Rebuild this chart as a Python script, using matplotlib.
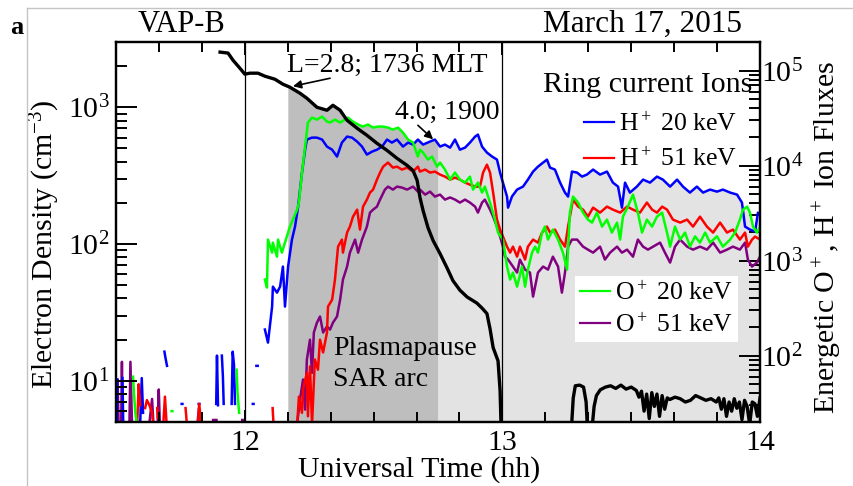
import numpy as np
import matplotlib
matplotlib.use('Agg')
import matplotlib.pyplot as plt
from matplotlib.ticker import MultipleLocator, FixedLocator, LogLocator, NullFormatter
from matplotlib.lines import Line2D

plt.rcParams['font.family'] = ['Liberation Serif', 'DejaVu Serif']
plt.rcParams['mathtext.fontset'] = 'custom'
plt.rcParams['mathtext.rm'] = 'Liberation Serif'
plt.rcParams['mathtext.it'] = 'Liberation Serif:italic'
plt.rcParams['mathtext.bf'] = 'Liberation Serif:bold'
plt.rcParams['font.size'] = 21.5

nan = np.nan

# ---------------- data ----------------
# Electron density (cm^-3), left axis
ne_t = [11.904, 11.935, 11.954, 11.981, 12.000, 12.020, 12.051, 12.078, 12.117, 12.148,
        12.175, 12.214, 12.241, 12.280, 12.319, 12.342, 12.370, 12.397, 12.436, 12.474,
        12.513, 12.552, 12.591, 12.630, 12.653, 12.669, 12.680, 12.692, 12.711, 12.731,
        12.758, 12.785, 12.808, 12.835, 12.863, 12.901, 12.921, 12.940, 12.952, 12.964,
        12.983, 12.991, 12.995, nan,
        13.268, 13.275, 13.283, 13.300, 13.315, 13.325, 13.330, nan,
        13.348, 13.356, 13.365, 13.380, 13.400, 13.420, 13.440, 13.460, 13.480, 13.500,
        13.520, 13.530, 13.540, 13.550, 13.560, 13.570, 13.580, 13.590, 13.600, 13.610,
        13.620, 13.630, 13.640, 13.650, 13.670, 13.690, 13.710, 13.730, 13.750, 13.770,
        13.790, 13.810, 13.830, 13.840, 13.850, 13.860, 13.870, 13.880, 13.890, 13.900,
        13.910, 13.920, 13.930, 13.940, 13.950, 13.960, 13.970, 13.980, 13.990, 14.000]
ne_v = [2530, 2490, 2210, 1930, 1746, 1775, 1775, 1687, 1603, 1474,
        1402, 1267, 1164, 1000, 951, 1034, 951, 803, 702, 624,
        545, 484, 423, 376, 345, 292, 219, 176, 132, 106,
        85, 67, 54, 46, 41, 37, 34, 31, 24, 17.5,
        14, 8.5, 4.5, nan,
        4.5, 7.5, 9.2, 9.3, 9.0, 7.0, 4.5, nan,
        4.5, 6.5, 7.8, 8.6, 9.0, 9.2, 8.8, 9.3, 8.7, 9.0,
        8.5, 7.6, 8.4, 6.0, 8.0, 5.3, 8.2, 6.5, 8.0, 5.5,
        7.8, 6.2, 7.5, 7.3, 7.6, 7.4, 7.0, 7.2, 7.8, 7.5,
        7.2, 7.4, 7.0, 7.5, 6.2, 7.4, 5.5, 7.0, 6.0, 7.4,
        6.3, 7.0, 5.2, 7.2, 6.5, 4.8, 7.0, 6.8, 5.5, 7.5]

# H+ 20 keV flux (right axis)
h20_t = [12.078, 12.090, 12.106, 12.109, 12.125, 12.137, 12.148, 12.156, 12.168, 12.183,
         12.195, 12.207, 12.222, 12.234, 12.241, 12.261, 12.280, 12.300, 12.319, 12.339,
         12.358, 12.377, 12.397, 12.416, 12.436, 12.455, 12.474, 12.494, 12.513, 12.533,
         12.552, 12.571, 12.591, 12.614, 12.634, 12.653, 12.672, 12.692, 12.719, 12.738,
         12.758, 12.777, 12.797, 12.816, 12.835, 12.855, 12.874, 12.894, 12.905, 12.921,
         12.940, 12.960, 12.979, 12.991, 13.002, 13.018, 13.022, 13.037, 13.057, 13.080,
         13.099, 13.119, 13.138, 13.158, 13.173, 13.185, 13.204, 13.224, 13.243, 13.255,
         13.270, 13.290, 13.309, 13.328, 13.352, 13.379, 13.406, 13.429, 13.449, 13.464,
         13.476, 13.495, 13.522, 13.546, 13.573, 13.600, 13.623, 13.651, 13.678, 13.701,
         13.728, 13.755, 13.779, 13.806, 13.833, 13.856, 13.884, 13.911, 13.930, 13.942,
         13.961, 13.981, 13.992, 14.000]
h20_f = [188, 137, 328, 532, 460, 532, 865, 328, 865, 1664,
         2280, 3700, 8440, 14700, 18800, 19700, 19700, 18800, 15850, 14700,
         12450, 17460, 20200, 19700, 17900, 15850, 13060, 14040, 14700, 15850,
         18800, 17460, 18800, 15850, 17460, 16640, 18800, 16640, 17900, 18800,
         15850, 16640, 15460, 18800, 14700, 15460, 17460, 20200, 21200, 15850,
         13710, 12450, 11560, 8440, 6620, 4720, 3610, 4720, 5590, 6010,
         7120, 8650, 9750, 10760, 11560, 9520, 9080, 6620, 5200, 4720,
         8650, 8440, 7660, 8040, 9080, 8040, 8650, 6620, 6010, 3610,
         6620, 5200, 6010, 7120, 6620, 7660, 7120, 6010, 7120, 6010,
         5200, 6010, 5200, 5590, 5320, 5590, 5200, 4950, 4080, 2280,
         2120, 2020, 3200, 3000]

# H+ 51 keV flux
h51_t = [12.203, 12.210, 12.222, 12.226, 12.241, 12.245, 12.253, 12.261, 12.272, 12.284,
         12.292, 12.304, 12.319, 12.323, 12.339, 12.350, 12.362, 12.377, 12.381, 12.397,
         12.408, 12.420, 12.436, 12.447, 12.459, 12.474, 12.486, 12.498, 12.513, 12.525,
         12.537, 12.556, 12.575, 12.591, 12.610, 12.630, 12.653, 12.672, 12.680, 12.700,
         12.719, 12.738, 12.758, 12.777, 12.797, 12.816, 12.835, 12.855, 12.874, 12.894,
         12.913, 12.925, 12.940, 12.952, 12.964, 12.979, 12.991, 13.002, 13.018, 13.030,
         13.041, 13.057, 13.068, 13.088, 13.099, 13.119, 13.138, 13.154, 13.173, 13.185,
         13.204, 13.224, 13.243, 13.255, 13.274, 13.294, 13.313, 13.332, 13.352, 13.379,
         13.406, 13.429, 13.457, 13.484, 13.507, 13.534, 13.561, 13.581, 13.600, 13.620,
         13.639, 13.662, 13.690, 13.717, 13.740, 13.767, 13.794, 13.818, 13.845, 13.872,
         13.895, 13.922, 13.942, 13.953, 13.969, 13.981, 14.000]
h51_f = [18, 37, 25, 44, 66, 23, 77, 19, 91, 71,
         147, 108, 175, 328, 388, 631, 1403, 1664, 1213, 1972,
         2280, 2900, 3440, 2120, 3700, 4385, 5200, 5590, 7120, 8440,
         9750, 10760, 9520, 9750, 9080, 9520, 8650, 9750, 8650, 9080,
         8440, 8650, 8040, 7660, 7120, 7480, 7120, 6620, 6300, 6010,
         6010, 8440, 10230, 8440, 5200, 2700, 2120, 1790, 1403, 1213,
         1403, 1100, 1403, 1025, 1403, 1664, 1546, 1972, 2280, 1972,
         2120, 1664, 1403, 2280, 4385, 3700, 3440, 2900, 3610, 3200,
         3700, 3440, 3200, 3700, 3440, 3200, 4080, 3440, 3200, 3700,
         3440, 2700, 2512, 2700, 2280, 2900, 2280, 1972, 2512, 1972,
         2120, 1664, 1972, 1403, 1664, 1790, 1664]

# O+ 20 keV flux
o20_t = [12.078, 12.086, 12.090, 12.106, 12.109, 12.125, 12.129, 12.144, 12.156, 12.168,
         12.175, 12.187, 12.203, 12.210, 12.222, 12.234, 12.245, 12.261, 12.280, 12.300,
         12.319, 12.331, 12.350, 12.370, 12.389, 12.400, 12.420, 12.440, 12.458, 12.478,
         12.498, 12.517, 12.536, 12.556, 12.575, 12.595, 12.614, 12.634, 12.653, 12.672,
         12.680, 12.692, 12.711, 12.727, 12.746, 12.758, 12.777, 12.797, 12.816, 12.835,
         12.855, 12.874, 12.886, 12.905, 12.921, 12.932, 12.952, 12.971, 12.983, 13.002,
         13.018, 13.030, 13.041, 13.057, 13.076, 13.088, 13.099, 13.115, 13.127, 13.138,
         13.154, 13.165, 13.177, 13.196, 13.216, 13.235, 13.251, 13.262, 13.274, 13.294,
         13.313, 13.332, 13.348, 13.367, 13.387, 13.406, 13.425, 13.445, 13.457, 13.468,
         13.487, 13.507, 13.526, 13.542, 13.561, 13.581, 13.600, 13.620, 13.639, 13.651,
         13.670, 13.690, 13.709, 13.728, 13.748, 13.767, 13.787, 13.806, 13.833, 13.856,
         13.884, 13.903, 13.922, 13.934, 13.950, 13.961, 13.973, 13.988, 14.000]
o20_f = [631, 520, 1664, 1213, 1546, 1100, 1664, 1213, 1546, 1972,
         2280, 2700, 3440, 4080, 8440, 15850, 28380, 32000, 30500, 32800,
         29040, 28380, 30500, 28380, 30500, 32000, 29040, 27030, 25760, 27030,
         25120, 25760, 25760, 25120, 23900, 25120, 22230, 18800, 17460, 12450,
         14700, 13710, 11560, 12450, 9750, 10760, 9080, 7120, 8440, 7120,
         6620, 7660, 5590, 6620, 5200, 6010, 4080, 2700, 1972, 1664,
         865, 631, 748, 532, 865, 532, 804, 1213, 1403, 1213,
         1972, 2280, 1664, 2120, 1664, 1213, 804, 3200, 4720, 4080,
         3200, 2700, 2512, 3200, 2280, 2700, 1972, 2512, 1664, 2900,
         3700, 4950, 3200, 1972, 2700, 2280, 2900, 3200, 1972, 1403,
         2280, 1664, 1972, 1403, 1800, 1546, 1972, 1546, 1800, 1403,
         1664, 1972, 2700, 3440, 3700, 3200, 2280, 1972, 2280]

# O+ 51 keV flux
o51_t = [12.203, 12.214, 12.226, 12.234, 12.241, 12.253, 12.261, 12.268, 12.280, 12.292,
         12.304, 12.319, 12.331, 12.342, 12.358, 12.370, 12.381, 12.397, 12.408, 12.428,
         12.440, 12.455, 12.474, 12.486, 12.498, 12.513, 12.525, 12.544, 12.556, 12.575,
         12.591, 12.610, 12.630, 12.653, 12.672, 12.680, 12.700, 12.719, 12.738, 12.758,
         12.777, 12.797, 12.816, 12.835, 12.855, 12.874, 12.894, 12.905, 12.921, 12.932,
         12.952, 12.964, 12.979, 12.991, 13.002, 13.010, 13.022, 13.041, 13.057, 13.068,
         13.088, 13.107, 13.119, 13.138, 13.158, 13.177, 13.196, 13.216, 13.231, 13.243,
         13.255, 13.270, 13.290, 13.313, 13.332, 13.352, 13.379, 13.398, 13.418, 13.445,
         13.464, 13.484, 13.507, 13.526, 13.546, 13.565, 13.585, 13.612, 13.631, 13.651,
         13.670, 13.690, 13.717, 13.740, 13.767, 13.794, 13.818, 13.845, 13.872, 13.895,
         13.922, 13.942, 13.953, 13.969, 13.988, 14.000]
o51_f = [19, 34, 56, 27, 91, 147, 66, 175, 222, 258,
         175, 202, 188, 222, 258, 388, 631, 865, 1213, 1664,
         1213, 1664, 2280, 3200, 3440, 3700, 4385, 5590, 6010, 5590,
         6010, 5870, 5590, 6010, 5320, 5590, 4950, 5320, 4720, 4950,
         4385, 4620, 4385, 4080, 4385, 4080, 3700, 3200, 4080, 4385,
         3440, 2900, 2280, 1790, 1403, 1100, 1025, 865, 748, 1025,
         804, 748, 418, 748, 865, 804, 1100, 865, 460, 748,
         1403, 1664, 1664, 1403, 1305, 1213, 1403, 1025, 1213, 1403,
         1213, 1305, 1100, 1664, 1403, 1305, 1403, 1546, 1213, 953,
         1403, 1664, 1403, 1305, 1403, 1305, 1546, 1213, 1305, 1403,
         1305, 1546, 1025, 865, 953, 1100]

# sparse low-count samples before the main pass
h20_early_t = [11.503, 11.505, nan, 11.525, 11.528, nan, 11.594, 11.600, 11.605, nan,
               11.688, 11.692, 11.698, nan, 11.755, 11.758, nan, 11.821, 11.824, nan,
               11.889, 11.892, 11.896, nan, 11.911, 11.915, 11.918, nan,
               11.949, 11.953, 11.958, 11.962, nan, 12.031, 12.034, nan, 12.045, 12.050]
h20_early_f = [20, 56, nan, 58, 20, nan, 20, 58, 25, nan,
               110, 95, 78, nan, 31, 31, nan, 31, 31, nan,
               31, 100, 30, nan, 100, 60, 31, nan,
               31, 110, 80, 31, nan, 31, 31, nan, 78, 78]
o20_early_t = [11.566, 11.570, 11.575, 11.582, nan, 11.716, 11.719, nan, 11.968, 11.972, 11.978]
o20_early_f = [60, 40, 25, 18, nan, 26, 26, nan, 71, 40, 25]
h51_early_t = [11.582, 11.588, 11.594, nan, 11.613, 11.620, 11.630, 11.640, 11.645, nan,
               11.660, 11.662, nan, 11.683, 11.690, 11.696, nan, 11.770, 11.776, nan,
               11.818, 11.823, 11.830, nan, 12.108, 12.112]
h51_early_f = [18, 50, 30, nan, 28, 34, 30, 25, 18, nan,
               28, 22, nan, 18, 37, 20, nan, 28, 18, nan,
               18, 31, 20, nan, 28, 18]
o51_early_t = [11.502, 11.506, 11.510, nan, 11.520, 11.523, 11.526, nan, 11.552, 11.556, 11.562, nan,
               11.630, 11.640, 11.645, nan, 11.662, 11.666, 11.670, nan,
               11.815, 11.822, 11.830, nan, 11.877, 11.890, nan, 11.990, 11.995]
o51_early_f = [18, 56, 20, nan, 18, 86, 18, nan, 18, 86, 20, nan,
               20, 35, 20, nan, 20, 44, 20, nan,
               18, 28, 20, nan, 21, 21, nan, 21, 21]

# shaded intervals (UT hours)
sar_span = (12.167, 12.75)
outer_span = (12.75, 14.0)

# axis limits
XLIM = (11.5, 14.0)
NE_LIM = (5, 3000)
FLUX_LIM = (20, 2e5)

C_H20, C_H51, C_O20, C_O51 = '#0000ff', '#ff0000', '#00ff00', '#800080'

# ---------------- figure ----------------
W, H = 854, 486
fig = plt.figure(figsize=(W / 100, H / 100), dpi=100)
L, R, T, B = 116, 760, 42, 422
ax = fig.add_axes([L / W, 1 - B / H, (R - L) / W, (B - T) / H])
ax2 = ax.twinx()
ax.set_zorder(ax2.get_zorder() + 1)
ax.patch.set_visible(False)

ax.set_xlim(*XLIM)
ax.set_yscale('log')
ax.set_ylim(*NE_LIM)
ax2.set_yscale('log')
ax2.set_ylim(*FLUX_LIM)


def ne_to_flux(v):
    v = np.asarray(v, float)
    frac = (np.log10(v) - np.log10(NE_LIM[0])) / (np.log10(NE_LIM[1]) - np.log10(NE_LIM[0]))
    return 10 ** (np.log10(FLUX_LIM[0]) + frac * (np.log10(FLUX_LIM[1]) - np.log10(FLUX_LIM[0])))


def log_interp(tq, t, v):
    t = np.asarray(t, float)
    v = np.asarray(v, float)
    m = np.isfinite(t) & np.isfinite(v)
    return 10 ** np.interp(tq, t[m], np.log10(v[m]))


ne_t_a = np.asarray(ne_t, float)
seg1 = ne_t_a <= 13.0
ne_flux1 = ne_to_flux(np.asarray(ne_v, float)[seg1])

for (t0, t1), col in ((sar_span, '#bebebe'), (outer_span, '#e3e3e3')):
    tq = np.linspace(t0, t1, 800)
    env = np.maximum(log_interp(tq, h20_t, h20_f), log_interp(tq, o20_t, o20_f))
    env = np.maximum(env, log_interp(tq, ne_t_a[seg1], ne_flux1))
    ax2.fill_between(tq, 1, env, color=col, lw=0, zorder=0)

lw_ion = 1.8
for (t, f), (te, fe), c, z in [((o51_t, o51_f), (o51_early_t, o51_early_f), C_O51, 2),
                               ((h20_t, h20_f), (h20_early_t, h20_early_f), C_H20, 3),
                               ((h51_t, h51_f), (h51_early_t, h51_early_f), C_H51, 4),
                               ((o20_t, o20_f), (o20_early_t, o20_early_f), C_O20, 5)]:
    ax2.plot(t, f, color=c, lw=lw_ion, zorder=z)
    ax2.plot(te, fe, color=c, lw=lw_ion, zorder=z)

ax.plot(ne_t, ne_v, color='k', lw=2.4, zorder=5)
ax.axvline(12, color='k', lw=0.9, zorder=4)
ax.axvline(13, color='k', lw=0.9, zorder=4)

# ticks
for a in (ax, ax2):
    for s in a.spines.values():
        s.set_linewidth(1.6)
ax.xaxis.set_major_locator(FixedLocator([12, 13, 14]))
ax.xaxis.set_minor_locator(MultipleLocator(1 / 6))
ax.yaxis.set_major_locator(LogLocator(base=10, numticks=10))
ax.yaxis.set_minor_locator(LogLocator(base=10, subs=np.arange(2, 10), numticks=20))
ax.yaxis.set_minor_formatter(NullFormatter())
ax2.yaxis.set_major_locator(LogLocator(base=10, numticks=10))
ax2.yaxis.set_minor_locator(LogLocator(base=10, subs=np.arange(2, 10), numticks=20))
ax2.yaxis.set_minor_formatter(NullFormatter())

ax.tick_params(axis='x', which='both', direction='in', top=True, bottom=True, width=1.4)
ax.tick_params(axis='x', which='major', length=9, pad=6)
ax.tick_params(axis='x', which='minor', length=7)
ax.tick_params(axis='y', which='both', direction='in', left=True, right=False, width=1.4)
ax.tick_params(axis='y', which='major', length=15, pad=4.5)
ax.tick_params(axis='y', which='minor', length=8)
ax2.tick_params(axis='y', which='both', direction='in', right=True, left=False, width=1.4)
ax2.tick_params(axis='y', which='major', length=15, pad=0.5)
ax2.tick_params(axis='y', which='minor', length=8)

ax.set_xlabel('Universal Time (hh)')
ax.xaxis.set_label_coords((419 - L) / (R - L), (B - 456) / (B - T))
ax.set_ylabel('Electron Density (cm$^{-3}$)')
ax.yaxis.set_label_coords((62 - L) / (R - L), (B - 244) / (B - T))
ax2.set_ylabel('Energetic O$^+$, H$^+$ Ion Fluxes')
ax2.yaxis.set_label_coords((811 - L) / (R - L), (B - 237) / (B - T))

# annotations
ANN_FS = 20
ax.annotate('', xy=(12.187, 1425), xytext=(12.331, 1630),
            arrowprops=dict(arrowstyle='-|>', color='k', lw=1.2, mutation_scale=12,
                            shrinkA=0, shrinkB=0), zorder=6)
ax.text(12.164, 2030, 'L=2.8; 1736 MLT', ha='left', va='center', fontsize=ANN_FS, zorder=6)
ax.annotate('', xy=(12.731, 583), xytext=(12.672, 738),
            arrowprops=dict(arrowstyle='-|>', color='k', lw=1.2, mutation_scale=12,
                            shrinkA=0, shrinkB=0), zorder=6)
ax.text(12.583, 919, '4.0; 1900', ha='left', va='center', fontsize=ANN_FS, zorder=6)
ax.text(12.342, 13.3, 'Plasmapause\nSAR arc', ha='left', va='center', linespacing=1.35,
        fontsize=ANN_FS, zorder=6)

# legends
LEG_FS = 18.5
ax.text((648 - L) / (R - L), (B - 85) / (B - T), 'Ring current Ions', transform=ax.transAxes,
        ha='center', va='center', fontsize=21.5, zorder=6)
hH = [Line2D([], [], color=C_H20, lw=1.6), Line2D([], [], color=C_H51, lw=1.6)]
leg1 = ax.legend(hH, ['H$^+$ 20 keV', 'H$^+$ 51 keV'], loc='upper right', fontsize=LEG_FS,
                 bbox_to_anchor=((737 - L) / (R - L), (B - 112) / (B - T)),
                 frameon=False, handlelength=1.17, handletextpad=0.2, labelspacing=0.45,
                 borderpad=0, borderaxespad=0)
ax.add_artist(leg1)
hO = [Line2D([], [], color=C_O20, lw=1.6), Line2D([], [], color=C_O51, lw=1.6)]
leg2 = ax.legend(hO, ['O$^+$ 20 keV', 'O$^+$ 51 keV'], loc='upper right', fontsize=LEG_FS,
                 bbox_to_anchor=((738 - L) / (R - L), (B - 276) / (B - T)),
                 frameon=True, fancybox=False, edgecolor='none', facecolor='white', framealpha=1,
                 handlelength=1.17, handletextpad=0.2, labelspacing=0.3,
                 borderpad=0.2, borderaxespad=0)
leg2.set_zorder(7)

# figure texts and frame
fig.text(10 / W, 1 - 27 / H, 'a', fontweight='bold', fontsize=19, ha='left', va='center')
fig.text(181 / W, 1 - 24 / H, 'VAP-B', ha='center', va='center', fontsize=22)
fig.text(643 / W, 1 - 24 / H, 'March 17, 2015', ha='center', va='center', fontsize=22.5)
fig.add_artist(Line2D([27 / W, 27 / W], [0, 1 - 8 / H], transform=fig.transFigure,
                      color='#c4c4c4', lw=1))
fig.add_artist(Line2D([27 / W, 1], [1 - 8 / H, 1 - 8 / H], transform=fig.transFigure,
                      color='#c4c4c4', lw=1))

fig.savefig('out.png', dpi=100)
